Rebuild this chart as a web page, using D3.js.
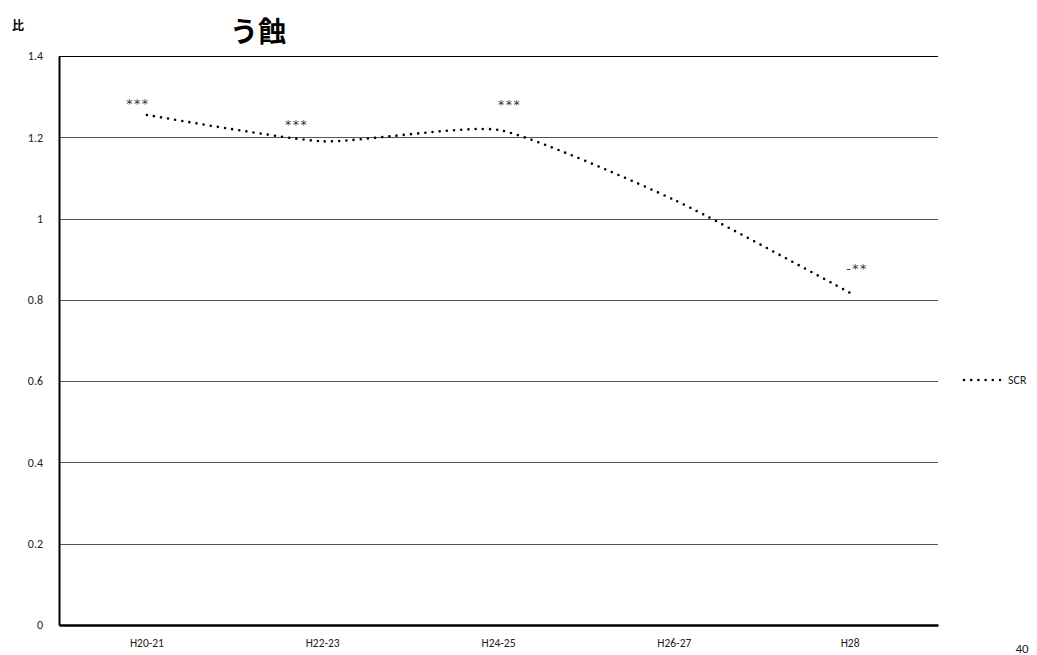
<!DOCTYPE html>
<html><head><meta charset="utf-8">
<script src="https://cdn.jsdelivr.net/npm/d3@7"></script>
<style>body{margin:0;background:#fff;overflow:hidden}svg{display:block}</style>
</head><body>
<script>
const categories = ["H20-21","H22-23","H24-25","H26-27","H28"];
const scrValues = [1.255, 1.19, 1.218, 1.046, 0.817];
const sigLabels = ["***","***","***","","-**"];
const yTicks = [0,0.2,0.4,0.6,0.8,1,1.2,1.4];
const seriesName = "SCR";
const titleText = "う蝕";
const yAxisTitle = "比";
const pageNumber = "40";

const W=1037,H=655;
const m={l:59,r:99,t:56,b:30};
const svg=d3.select("body").append("svg").attr("width",W).attr("height",H);
const font="Calibri, Carlito, 'Liberation Sans', 'DejaVu Sans', sans-serif";
const x=d3.scaleBand().domain(categories).range([m.l,W-m.r]);
const y=d3.scaleLinear().domain([0,1.4]).range([H-m.b,m.t]);

// gridlines
svg.append("g").selectAll("line").data(yTicks.filter(d=>d>0)).join("line")
 .attr("x1",m.l).attr("x2",W-m.r).attr("y1",d=>Math.round(y(d))+0.5).attr("y2",d=>Math.round(y(d))+0.5)
 .attr("stroke",d=>d===1.4?"#000":"#555").attr("stroke-width",1.2);

// y axis
const ya=svg.append("g").attr("transform",`translate(${m.l},0)`)
 .call(d3.axisLeft(y).tickValues(yTicks).tickSize(0).tickPadding(16).tickFormat(d=>d3.format("")(+d.toFixed(1))));
ya.select(".domain").attr("stroke","#000").attr("stroke-width",2);
ya.selectAll("text").attr("font-family",font).attr("font-size",12).attr("fill","#222");

// x axis
const xa=svg.append("g").attr("transform",`translate(0,${H-m.b})`)
 .call(d3.axisBottom(x).tickSize(0).tickPadding(14));
xa.select(".domain").attr("stroke","#000").attr("stroke-width",2.5);
xa.selectAll("text").attr("font-family",font).attr("font-size",11.5).attr("fill","#222");

// line
const pts=categories.map((c,i)=>[x(c)+x.bandwidth()/2,y(scrValues[i])]);
svg.append("path").attr("d",d3.line().curve(d3.curveCardinal.tension(0.45))(pts))
 .attr("fill","none").attr("stroke","#000").attr("stroke-width",2.6)
 .attr("stroke-dasharray","0 7.2").attr("stroke-linecap","round");

// significance labels
const labelOffsets=[[-9,-7],[-26,-12],[11,-21],[0,0],[7,-20]];
svg.append("g").selectAll("text").data(sigLabels).join("text")
 .attr("x",(d,i)=>pts[i][0]+labelOffsets[i][0]).attr("y",(d,i)=>pts[i][1]+labelOffsets[i][1])
 .attr("text-anchor","middle").attr("font-family","'DejaVu Sans', sans-serif").attr("font-size",12.5)
 .attr("letter-spacing",1.5).attr("fill","#333")
 .text(d=>d);

// legend
const lg=svg.append("g").attr("transform","translate(963,380)");
lg.append("line").attr("x1",1).attr("x2",38).attr("y1",0).attr("y2",0)
 .attr("stroke","#000").attr("stroke-width",2.6).attr("stroke-dasharray","0 7.2").attr("stroke-linecap","round");
lg.append("text").attr("x",45).attr("y",4).attr("font-family",font).attr("font-size",12).attr("fill","#222").text(seriesName);

// titles
svg.append("text").attr("x",258).attr("y",42).attr("text-anchor","middle")
 .attr("font-family","'Noto Sans CJK JP', sans-serif").attr("font-weight","bold").attr("font-size",28).text(titleText);
svg.append("text").attr("x",18).attr("y",30).attr("text-anchor","middle")
 .attr("font-family","'Noto Sans CJK JP', sans-serif").attr("font-weight","bold").attr("font-size",12).text(yAxisTitle);
svg.append("text").attr("x",1022).attr("y",653).attr("text-anchor","middle")
 .attr("font-family",font).attr("font-size",13).attr("fill","#222").text(pageNumber);
</script>
</body></html>
